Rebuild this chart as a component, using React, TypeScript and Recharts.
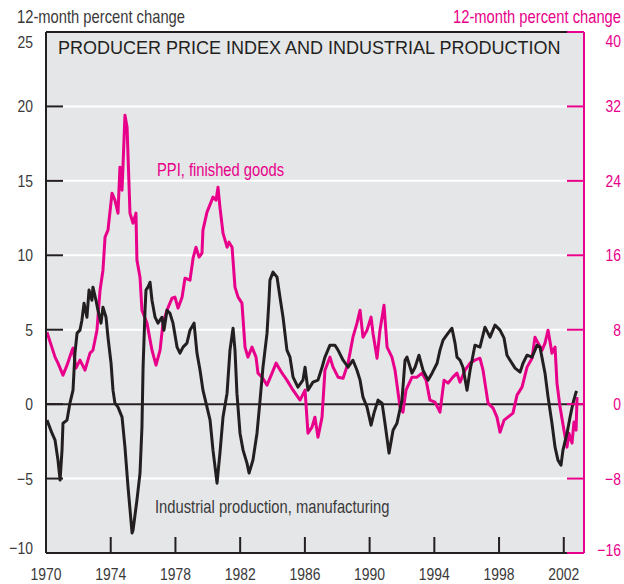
import { LineChart, Line, XAxis, YAxis, CartesianGrid, ReferenceLine } from "recharts";

const INK = "#231f20";
const PINK = "#e8008a";
const GREY_TEXT = "#3a3a3a";
const SANS = '"Liberation Sans", Arial, sans-serif';
const NARROW_SCALE = 0.82; // Liberation Sans squeezed to Arial Narrow proportions

const yearTicks = [1970, 1974, 1978, 1982, 1986, 1990, 1994, 1998, 2002];
const leftTicks = [-10, -5, 0, 5, 10, 15, 20, 25];
const rightTicks = [-16, -8, 0, 8, 16, 24, 32, 40];

// Industrial production, manufacturing (left axis, 12-month % change)
const ipYears = [
  1970.06, 1970.37, 1970.56, 1970.74, 1970.87, 1970.99, 1971.05, 1971.3, 1971.48, 1971.67,
  1971.79, 1971.92, 1972.1, 1972.22, 1972.35, 1972.53, 1972.66, 1972.84, 1972.9, 1973.09,
  1973.21, 1973.4, 1973.52, 1973.71, 1973.83, 1974.02, 1974.14, 1974.26, 1974.45, 1974.7,
  1974.88, 1975.07, 1975.32, 1975.38, 1975.62, 1975.81, 1975.93, 1976.0, 1976.12, 1976.18,
  1976.3, 1976.43, 1976.55, 1976.74, 1976.92, 1977.17, 1977.29, 1977.48, 1977.66, 1977.85,
  1978.1, 1978.28, 1978.47, 1978.71, 1978.9, 1979.15, 1979.33, 1979.52, 1979.7, 1979.95,
  1980.14, 1980.32, 1980.57, 1980.75, 1980.94, 1981.19, 1981.37, 1981.56, 1981.68, 1981.8,
  1981.99, 1982.18, 1982.42, 1982.55, 1982.79, 1983.04, 1983.23, 1983.41, 1983.66, 1983.78,
  1983.84, 1984.03, 1984.28, 1984.46, 1984.65, 1984.89, 1985.08, 1985.27, 1985.57, 1985.88,
  1986.01, 1986.19, 1986.5, 1986.81, 1987.06, 1987.24, 1987.55, 1987.86, 1988.05, 1988.36,
  1988.67, 1988.97, 1989.22, 1989.41, 1989.59, 1989.84, 1990.09, 1990.27, 1990.52, 1990.77,
  1990.95, 1991.2, 1991.45, 1991.69, 1992.0, 1992.19, 1992.31, 1992.62, 1992.81, 1993.05,
  1993.3, 1993.61, 1993.86, 1994.17, 1994.35, 1994.54, 1994.85, 1995.09, 1995.28, 1995.4,
  1995.59, 1995.77, 1996.02, 1996.21, 1996.51, 1996.82, 1997.13, 1997.44, 1997.75, 1998.06,
  1998.31, 1998.49, 1998.68, 1998.99, 1999.3, 1999.48, 1999.73, 2000.04, 2000.35, 2000.53,
  2000.84, 2001.03, 2001.27, 2001.46, 2001.64, 2001.83, 2001.95, 2002.2, 2002.39, 2002.57,
  2002.76, 2002.82,
];
const ipValues = [
  -1.07, -1.95, -2.42, -3.76, -5.1, -3.09, -1.28, -1.07, 0.07, 0.94,
  3.43, 4.77, 4.97, 5.64, 6.78, 5.84, 7.66, 6.98, 7.86, 6.98,
  6.31, 5.44, 6.51, 5.84, 4.5, 2.75, 0.94, 0.07, -0.2, -0.87,
  -2.89, -5.57, -8.66, -8.46, -6.45, -4.63, -1.54, 2.48, 6.31, 7.66,
  7.86, 8.19, 6.98, 5.84, 5.44, 5.84, 4.97, 6.31, 6.11, 5.44,
  3.83, 3.43, 3.83, 4.1, 4.97, 5.44, 3.43, 2.28, 0.94, -0.2,
  -1.07, -3.09, -5.31, -3.29, -0.87, 0.74, 3.63, 5.1, 3.63, 0.74,
  -1.95, -3.09, -3.96, -4.63, -3.76, -1.95, 0.27, 2.48, 4.77, 6.98,
  8.33, 8.87, 8.53, 7.19, 5.84, 3.63, 3.16, 1.81, 1.14, 1.61,
  2.48, 0.94, 1.48, 1.61, 2.48, 3.16, 3.96, 3.96, 3.63, 2.95,
  2.48, 2.95, 2.28, 1.61, 0.47, -0.2, -1.41, -0.6, 0.27, 0.07,
  -1.28, -3.29, -1.75, -1.28, 0.27, 2.95, 3.16, 2.08, 2.48, 3.29,
  2.28, 1.61, 2.08, 2.75, 3.63, 4.3, 4.77, 5.1, 4.1, 3.16,
  2.95, 2.48, 0.94, 2.28, 3.96, 3.83, 5.17, 4.5, 5.31, 4.97,
  4.43, 3.29, 2.95, 2.42, 2.15, 2.75, 3.29, 3.16, 3.96, 3.83,
  2.08, 0.47, -1.28, -2.89, -3.76, -4.1, -3.09, -1.95, -0.87, 0.07,
  0.81, 0.74,
];

// PPI, finished goods (right axis, 12-month % change)
const ppiYears = [
  1970.06, 1970.56, 1970.74, 1971.05, 1971.3, 1971.61, 1971.67, 1971.85, 1972.1, 1972.41,
  1972.72, 1972.9, 1973.15, 1973.34, 1973.52, 1973.65, 1973.83, 1974.08, 1974.26, 1974.45,
  1974.57, 1974.7, 1974.88, 1975.01, 1975.19, 1975.38, 1975.56, 1975.62, 1975.81, 1975.93,
  1976.24, 1976.55, 1976.8, 1977.05, 1977.23, 1977.48, 1977.79, 1977.97, 1978.16, 1978.41,
  1978.59, 1978.9, 1979.09, 1979.27, 1979.46, 1979.64, 1979.7, 1979.95, 1980.2, 1980.32,
  1980.51, 1980.63, 1980.75, 1980.94, 1981.19, 1981.31, 1981.5, 1981.68, 1981.87, 1982.11,
  1982.3, 1982.48, 1982.73, 1982.98, 1983.1, 1983.35, 1983.66, 1983.97, 1984.22, 1984.59,
  1984.89, 1985.27, 1985.7, 1986.01, 1986.19, 1986.44, 1986.62, 1986.81, 1987.06, 1987.24,
  1987.55, 1987.74, 1988.05, 1988.36, 1988.67, 1988.97, 1989.22, 1989.41, 1989.59, 1989.84,
  1990.09, 1990.21, 1990.46, 1990.64, 1990.89, 1991.08, 1991.38, 1991.57, 1991.88, 1992.06,
  1992.25, 1992.62, 1992.93, 1993.24, 1993.49, 1993.73, 1994.04, 1994.35, 1994.6, 1994.85,
  1995.15, 1995.4, 1995.59, 1995.9, 1996.21, 1996.51, 1996.82, 1997.01, 1997.32, 1997.63,
  1997.87, 1998.06, 1998.31, 1998.55, 1998.86, 1999.11, 1999.42, 1999.73, 2000.04, 2000.22,
  2000.41, 2000.66, 2000.84, 2001.03, 2001.27, 2001.46, 2001.58, 2001.77, 2002.01, 2002.2,
  2002.32, 2002.51, 2002.63, 2002.76, 2002.82,
];
const ppiValues = [
  7.74, 5.05, 4.41, 3.12, 4.19, 5.8, 6.02, 3.87, 4.73, 3.65,
  5.48, 5.8, 7.95, 12.25, 14.4, 17.95, 18.7, 22.68, 21.93, 20.53,
  25.47, 23.0, 31.06, 29.77, 20.53, 19.45, 20.53, 15.48, 13.65, 10.1,
  8.71, 5.8, 4.19, 5.8, 8.71, 10.1, 11.39, 11.5, 10.32, 11.5,
  13.54, 13.33, 15.69, 16.87, 15.8, 16.23, 18.7, 20.64, 21.71, 22.25,
  21.93, 23.32, 21.17, 18.38, 16.87, 17.41, 16.87, 12.58, 11.5, 10.86,
  6.13, 5.05, 6.13, 5.05, 3.33, 2.9, 2.04, 3.33, 4.41, 3.33,
  2.58, 1.5, 0.43, 1.5, -3.12, -2.47, -1.4, -3.55, -1.4, 3.65,
  5.05, 3.98, 2.9, 2.79, 4.41, 7.2, 8.71, 10.1, 7.2, 7.95,
  9.35, 7.63, 4.94, 7.95, 10.64, 6.13, 5.05, 3.65, -0.32, -0.86,
  1.5, 2.9, 2.9, 3.33, 2.58, 0.43, 0.21, -0.86, 2.58, 2.26,
  2.9, 3.33, 2.36, 3.65, 4.41, 4.73, 4.94, 3.65, 0.11, -0.43,
  -1.4, -3.01, -1.72, -1.4, -0.97, 0.97, 1.83, 3.98, 4.94, 7.2,
  6.56, 5.8, 6.56, 7.95, 5.48, 6.13, 2.26, -0.32, -2.79, -4.62,
  -3.12, -4.19, -1.93, -2.79, 0.75,
];

const ipData = ipYears.map((year, i) => ({ year, ip: ipValues[i] }));
const ppiData = ppiYears.map((year, i) => ({ year, ppi: ppiValues[i] }));

const fmt = (v: number) => (v < 0 ? `\u2212${Math.abs(v)}` : `${v}`);

function NarrowText({ x, y, size, fill, anchor = "start", children }: any) {
  return (
    <text
      transform={`translate(${x},${y}) scale(${NARROW_SCALE},1)`}
      x={0}
      y={0}
      textAnchor={anchor}
      fontFamily={SANS}
      fontSize={size}
      fill={fill}
    >
      {children}
    </text>
  );
}

function LeftTick({ x, y, payload }: any) {
  const v = payload.value;
  const dy = v === 25 ? 16 : v === -10 ? 1 : 6;
  return (
    <g>
      <line x1={x} x2={x + 17} y1={y} y2={y} stroke={INK} strokeWidth={2} />
      <NarrowText x={x - 13} y={y + dy} size={17} fill={GREY_TEXT} anchor="end">
        {fmt(v)}
      </NarrowText>
    </g>
  );
}

function RightTick({ x, y, payload }: any) {
  const v = payload.value;
  const dy = v === 40 ? 15 : v === -16 ? 3 : 6;
  return (
    <g>
      <line x1={x - 17} x2={x} y1={y} y2={y} stroke={PINK} strokeWidth={2} />
      <NarrowText x={x + 37} y={y + dy} size={17} fill={PINK} anchor="end">
        {fmt(v)}
      </NarrowText>
    </g>
  );
}

function BottomTick({ x, y, payload }: any) {
  return (
    <g>
      <line x1={x} x2={x} y1={y - 16} y2={y} stroke={INK} strokeWidth={2} />
      <NarrowText x={x} y={y + 27} size={17} fill={GREY_TEXT} anchor="middle">
        {payload.value}
      </NarrowText>
    </g>
  );
}

export default function App() {
  return (
    <div style={{ position: "absolute", left: 0, top: 0, width: 624, height: 584, background: "#fff" }}>
      <LineChart width={624} height={584} margin={{ top: 32, right: 0, bottom: 0, left: 6 }}>
        <CartesianGrid
          yAxisId="left"
          vertical={false}
          stroke="#ffffff"
          strokeWidth={2}
          fill="#e5e6e8"
          fillOpacity={1}
        />
        <XAxis
          dataKey="year"
          type="number"
          domain={[1970, 2003.25]}
          ticks={yearTicks}
          allowDataOverflow
          height={31}
          tickLine={false}
          tickSize={0}
          tickMargin={0}
          axisLine={{ stroke: INK, strokeWidth: 2 }}
          tick={BottomTick}
          interval={0}
        />
        <YAxis
          yAxisId="left"
          orientation="left"
          domain={[-10, 25]}
          ticks={leftTicks}
          width={40}
          tickLine={false}
          tickSize={0}
          tickMargin={0}
          axisLine={{ stroke: INK, strokeWidth: 2 }}
          tick={LeftTick}
          interval={0}
        />
        <YAxis
          yAxisId="right"
          orientation="right"
          domain={[-16, 40]}
          ticks={rightTicks}
          width={40}
          tickLine={false}
          tickSize={0}
          tickMargin={0}
          axisLine={{ stroke: PINK, strokeWidth: 2 }}
          tick={RightTick}
          interval={0}
        />
        <ReferenceLine yAxisId="left" y={0} stroke={INK} strokeWidth={2} />
        <ReferenceLine yAxisId="left" y={25} stroke={INK} strokeWidth={2} />
        <Line
          yAxisId="right"
          data={ppiData}
          dataKey="ppi"
          type="linear"
          stroke={PINK}
          strokeWidth={3}
          dot={false}
          strokeLinejoin="round"
          isAnimationActive={false}
        />
        <Line
          yAxisId="left"
          data={ipData}
          dataKey="ip"
          type="linear"
          stroke={INK}
          strokeWidth={3}
          dot={false}
          strokeLinejoin="round"
          isAnimationActive={false}
        />
      </LineChart>
      <svg width={624} height={584} style={{ position: "absolute", left: 0, top: 0, pointerEvents: "none" }}>
        <NarrowText x={17} y={23} size={18} fill={GREY_TEXT}>
          12-month percent change
        </NarrowText>
        <NarrowText x={621} y={23} size={18} fill={PINK} anchor="end">
          12-month percent change
        </NarrowText>
        <text x={58} y={54} fontFamily={SANS} fontSize={18} fill={INK}>
          PRODUCER PRICE INDEX AND INDUSTRIAL PRODUCTION
        </text>
        <NarrowText x={157} y={176} size={18} fill={PINK}>
          PPI, finished goods
        </NarrowText>
        <NarrowText x={155} y={513} size={18} fill={GREY_TEXT}>
          Industrial production, manufacturing
        </NarrowText>
      </svg>
    </div>
  );
}
